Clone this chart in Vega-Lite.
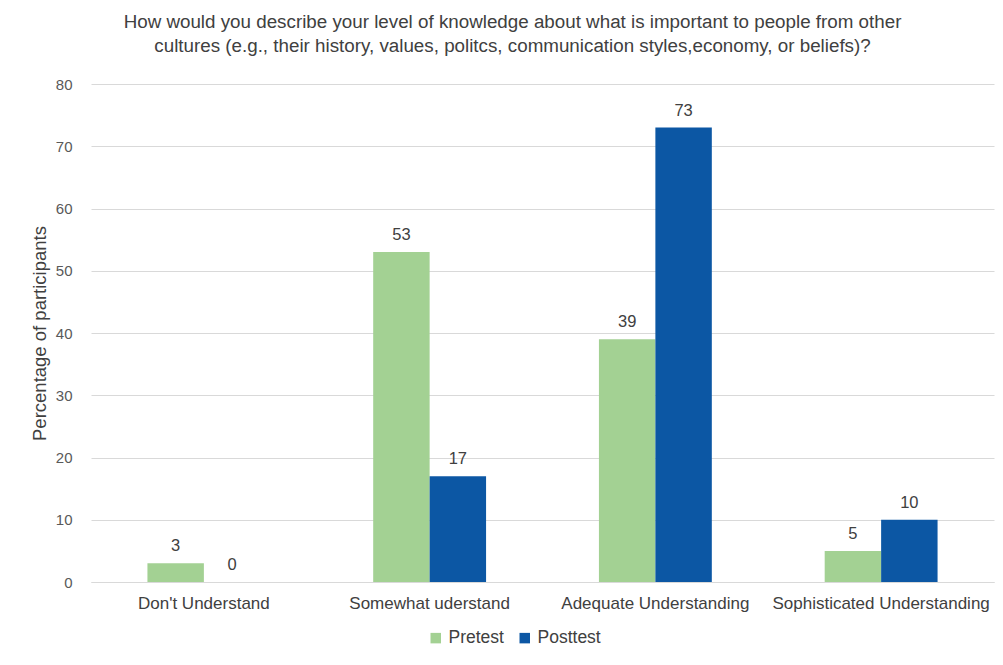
{
  "$schema": "https://vega.github.io/schema/vega-lite/v6.json",
  "autosize": "none",
  "padding": {"left": 91, "top": 84, "right": 9, "bottom": 83},
  "width": 903,
  "height": 498,
  "background": "white",
  "title": {
    "text": ["How would you describe your level of knowledge about what is important to people from other", "cultures (e.g., their history, values, politcs, communication styles,economy, or beliefs)?"],
    "font": "Liberation Sans",
    "fontSize": 18.8,
    "fontWeight": "normal",
    "color": "#404040",
    "anchor": "middle",
    "dx": -30,
    "offset": 21,
    "lineHeight": 24
  },
  "data": {
    "values": [
      {"category": "Don't Understand", "test": "Pretest", "value": 3},
      {"category": "Don't Understand", "test": "Posttest", "value": 0},
      {"category": "Somewhat uderstand", "test": "Pretest", "value": 53},
      {"category": "Somewhat uderstand", "test": "Posttest", "value": 17},
      {"category": "Adequate Understanding", "test": "Pretest", "value": 39},
      {"category": "Adequate Understanding", "test": "Posttest", "value": 73},
      {"category": "Sophisticated Understanding", "test": "Pretest", "value": 5},
      {"category": "Sophisticated Understanding", "test": "Posttest", "value": 10}
    ]
  },
  "encoding": {
    "x": {
      "field": "category", "type": "nominal", "sort": null,
      "scale": {"paddingInner": 0.5, "paddingOuter": 0.25},
      "axis": {
        "title": null, "labelAngle": 0, "labelFont": "Liberation Sans", "labelFontSize": 17,
        "labelColor": "#404040", "ticks": false, "domain": true, "domainColor": "#d9d9d9", "labelPadding": 13,
        "labelLimit": 0
      }
    },
    "xOffset": {"field": "test", "sort": ["Pretest", "Posttest"]},
    "y": {
      "field": "value", "type": "quantitative",
      "scale": {"domain": [0, 80]},
      "axis": {
        "title": "Percentage of participants", "titleFont": "Liberation Sans", "titleFontSize": 18.5,
        "titleFontWeight": "normal", "titleColor": "#404040", "titleX": -42,
        "values": [0,10,20,30,40,50,60,70,80],
        "labelFont": "Liberation Sans", "labelFontSize": 15, "labelColor": "#595959",
        "ticks": false, "domain": false, "gridColor": "#d9d9d9", "gridWidth": 1.2, "labelPadding": 19
      }
    }
  },
  "layer": [
    {
      "mark": {"type": "bar"},
      "encoding": {
        "color": {
          "field": "test", "type": "nominal",
          "scale": {"domain": ["Pretest", "Posttest"], "range": ["#a3d193", "#0c57a4"]},
          "legend": {
            "title": null, "orient": "none", "legendX": 336, "legendY": 545, "direction": "horizontal",
            "symbolType": "square", "symbolSize": 110, "labelFont": "Liberation Sans", "labelFontSize": 17.5,
            "labelColor": "#404040", "columnPadding": 12, "symbolStrokeWidth": 0, "labelOffset": 4
          }
        }
      }
    },
    {
      "mark": {"type": "text", "baseline": "bottom", "dy": -9, "font": "Liberation Sans", "fontSize": 16.5, "color": "#404040"},
      "encoding": {"text": {"field": "value", "type": "quantitative"}}
    }
  ],
  "config": {"view": {"stroke": null}}
}
